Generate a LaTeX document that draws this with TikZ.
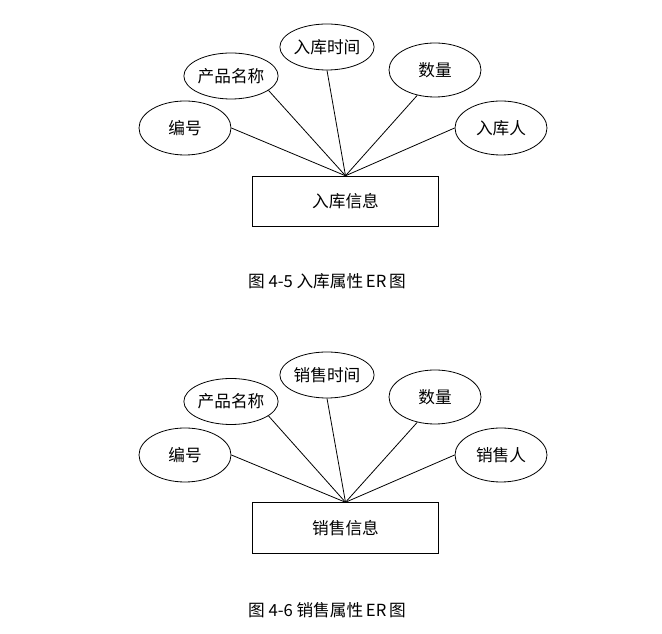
\documentclass[tikz,border=0pt]{standalone}
\usepackage{fontspec}
\setmainfont{Noto Sans CJK SC}
\usepackage{tikz}
\usetikzlibrary{shapes.geometric}
\tikzstyle{entity} = [rectangle, minimum width=140pt, minimum height=38pt, inner sep=0pt, text centered, draw=black, line width=0.6pt, font=\fontsize{12.5}{14}\selectfont]
\tikzstyle{attr} = [ellipse, minimum width=69pt, minimum height=34.5pt, inner sep=0pt, text centered, draw=black, line width=0.6pt, font=\fontsize{12.5}{14}\selectfont]
\tikzstyle{attrtall} = [attr, minimum height=40.5pt]
\tikzstyle{caption} = [font=\fontsize{12.5}{14}\selectfont]
\tikzstyle{line} = [line width=0.6pt,-]

\begin{document}
\begin{tikzpicture}[x=0.75pt, y=-0.75pt]
  \useasboundingbox (0,0) rectangle (662,634);

  % stock-in
  \node (inInfo) [entity] at (345.5,201.5) {入库信息};
  \node (inId) [attrtall] at (185,128) {编号};
  \node (inName) [attr] at (231,76) {产品名称};
  \node (inTime) [attr] at (327,47) {入库时间};
  \node (inNum) [attrtall] at (435,70) {数量};
  \node (inPerson) [attrtall] at (501,128) {入库人};
  \node (inCap) [caption] at (327,281) {图 4-5 入库属性\,ER\,图};

  \draw [line] (inId.east) -- (inInfo.north);
  \draw [line] (inName.-21) -- (inInfo.north);
  \draw [line] (inTime.south) -- (inInfo.north);
  \draw [line] (inNum.-125) -- (inInfo.north);
  \draw [line] (inPerson.west) -- (inInfo.north);

  % sales
  \node (outInfo) [entity] at (345.5,528) {销售信息};
  \node (outId) [attrtall] at (185,455) {编号};
  \node (outName) [attr] at (231,401.5) {产品名称};
  \node (outTime) [attr] at (327,375) {销售时间};
  \node (outNum) [attrtall] at (435,397) {数量};
  \node (outPerson) [attrtall] at (501,455) {销售人};
  \node (outCap) [caption] at (327,610) {图 4-6 销售属性\,ER\,图};

  \draw [line] (outId.east) -- (outInfo.north);
  \draw [line] (outName.-21) -- (outInfo.north);
  \draw [line] (outTime.south) -- (outInfo.north);
  \draw [line] (outNum.-125) -- (outInfo.north);
  \draw [line] (outPerson.west) -- (outInfo.north);

\end{tikzpicture}
\end{document}
